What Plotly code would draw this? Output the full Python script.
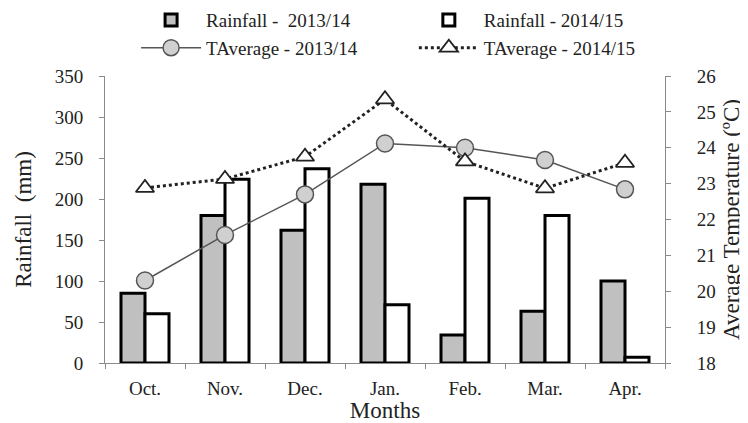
import plotly.graph_objects as go

months = ["Oct.", "Nov.", "Dec.", "Jan.", "Feb.", "Mar.", "Apr."]
rain_1314 = [85, 180, 162, 218, 34, 63, 100]
rain_1415 = [60, 224, 237, 71, 201, 180, 7]
temp_1314 = [20.3, 21.57, 22.7, 24.12, 24.0, 23.66, 22.84]
temp_1415 = [22.88, 23.13, 23.75, 25.35, 23.62, 22.87, 23.58]

FONT = "Liberation Serif"
AXC = "#8a8a8a"

fig = go.Figure()
fig.add_trace(go.Bar(x=months, y=rain_1314, name="Rainfall -  2013/14",
                     marker=dict(color="#c0c0c0", line=dict(color="black", width=3)),
                     legend="legend"))
fig.add_trace(go.Bar(x=months, y=rain_1415, name="Rainfall - 2014/15",
                     marker=dict(color="white", line=dict(color="black", width=3)),
                     legend="legend2"))
fig.add_trace(go.Scatter(x=months, y=temp_1314, name="TAverage - 2013/14", yaxis="y2",
                         mode="lines+markers",
                         line=dict(color="#555555", width=1.5),
                         marker=dict(symbol="circle", size=17, color="#d0d0d0",
                                     line=dict(color="#555555", width=1.5)),
                         legend="legend3"))
fig.add_trace(go.Scatter(x=months, y=temp_1415, name="TAverage - 2014/15", yaxis="y2",
                         mode="lines+markers",
                         line=dict(color="#222222", width=3, dash="dot"),
                         marker=dict(symbol="triangle-up", size=16, color="white",
                                     line=dict(color="#222222", width=1.8)),
                         legend="legend4"))


def leg(x, y):
    return dict(orientation="h", x=x, xanchor="left", xref="paper",
                y=y, yanchor="middle", yref="container",
                itemwidth=60, font=dict(family=FONT, size=19, color="#222222"),
                bgcolor="rgba(0,0,0,0)", borderwidth=0)


COL1, COL2 = 0.0555, 0.5515
ROW1, ROW2 = 0.971, 0.904

fig.update_layout(
    width=740, height=415,
    margin=dict(l=97, r=83, t=68, b=60, autoexpand=False),
    paper_bgcolor="white", plot_bgcolor="white",
    font=dict(family=FONT, size=19, color="#222222"),
    barmode="group", bargap=0.4, bargroupgap=0,
    showlegend=True,
    legend=leg(COL1, ROW1),
    legend2=leg(COL2, ROW1),
    legend3=leg(COL1, ROW2),
    legend4=leg(COL2, ROW2),
    xaxis=dict(showline=True, linecolor=AXC, linewidth=1, ticks="outside",
               tickson="boundaries", ticklen=5, tickcolor=AXC, automargin=False,
               ticklabelstandoff=8, tickfont=dict(family=FONT, size=19),
               showgrid=False, title=dict(text="Months", standoff=11)),
    yaxis=dict(range=[0, 350], dtick=50, showline=True, linecolor=AXC, linewidth=1,
               ticks="outside", ticklen=5, tickcolor=AXC, showgrid=False, zeroline=False,
               automargin=False, ticklabelstandoff=12, tickfont=dict(family=FONT, size=19),
               title=dict(text="Rainfall  (mm)", standoff=16)),
    yaxis2=dict(range=[18, 26], dtick=1, overlaying="y", side="right", showline=True,
                linecolor=AXC, linewidth=1, ticks="outside", ticklen=5, tickcolor=AXC,
                showgrid=False, zeroline=False, automargin=False, ticklabelstandoff=22,
                tickfont=dict(family=FONT, size=19),
                title=dict(text="Average Temperature (ºC)", standoff=7)),
)

fig.write_html("out.html")
